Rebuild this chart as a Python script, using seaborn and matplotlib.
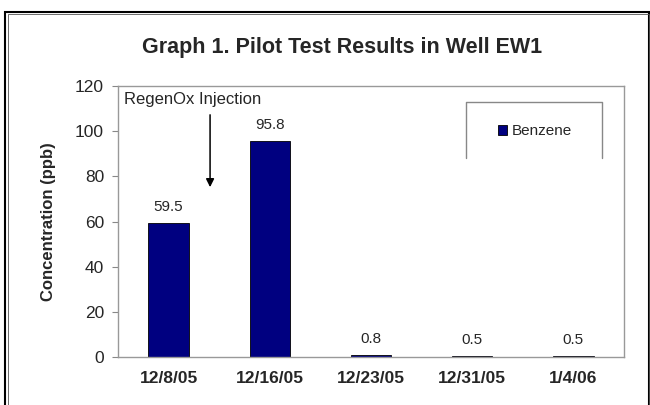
import seaborn as sns
import matplotlib.pyplot as plt
import matplotlib.patches as mpatches
import pandas as pd

# Data
dates = ['12/8/05', '12/16/05', '12/23/05', '12/31/05', '1/4/06']
benzene = [59.5, 95.8, 0.8, 0.5, 0.5]

sns.set_style("white")
plt.rcParams['font.family'] = ['Liberation Sans', 'DejaVu Sans']

df = pd.DataFrame({'Date': dates, 'Benzene': benzene})

fig = plt.figure(figsize=(6.5, 4.05), dpi=100)
ax = fig.add_axes([0.1815, 0.1185, 0.7785, 0.669])

sns.barplot(x='Date', y='Benzene', data=df, color='#000080', width=0.4,
            edgecolor='black', linewidth=0.6, saturation=1, ax=ax,
            label='Benzene')

for i, v in enumerate(benzene):
    ax.text(i, v + 4, f'{v}', ha='center', va='bottom', fontsize=11)

ax.set_ylim(0, 120)
ax.set_xlim(-0.5, 4.5)
ax.set_yticks(range(0, 121, 20))
ax.tick_params(axis='y', labelsize=12.5, length=4, direction='out', left=True,
               color='#888888', pad=6)
ax.tick_params(axis='x', labelsize=12.5, length=0, pad=10)
for t in ax.get_xticklabels():
    t.set_fontweight('bold')
ax.set_xlabel('')
ax.set_ylabel('Concentration (ppb)', fontsize=12, fontweight='bold', labelpad=14)
for s in ax.spines.values():
    s.set_color('#999999')
    s.set_linewidth(1)

# Annotation
ax.annotate('', xy=(0.41, 74), xytext=(0.41, 108.5),
            arrowprops=dict(arrowstyle='-|>', color='black', lw=1.1, mutation_scale=12))
ax.text(-0.44, 117.5, 'RegenOx Injection', fontsize=12, va='top', ha='left')

# Legend (frame drawn on three sides as in the original)
leg = ax.legend(loc='center', bbox_to_anchor=(0.824, 0.834), fontsize=11,
                frameon=False, handlelength=0.6, handleheight=0.6,
                handletextpad=0.3, borderaxespad=0)
box_x = [0.688, 0.688, 0.957, 0.957]
box_y = [0.734, 0.941, 0.941, 0.734]
ax.plot(box_x, box_y, transform=ax.transAxes, color='#888888', lw=1, clip_on=False)

fig.text(0.527, 0.883, 'Graph 1. Pilot Test Results in Well EW1', ha='center', va='center',
         fontsize=15.5, fontweight='bold')

# Outer frame
fig.patches.append(mpatches.Rectangle((0.008, -0.01), 0.99, 0.98, transform=fig.transFigure,
                                      fill=False, edgecolor='black', linewidth=1.5))
fig.patches.append(mpatches.Rectangle((0.013, -0.01), 0.985, 0.975, transform=fig.transFigure,
                                      fill=False, edgecolor='#555555', linewidth=0.6))

fig.savefig('out.png', dpi=100)
